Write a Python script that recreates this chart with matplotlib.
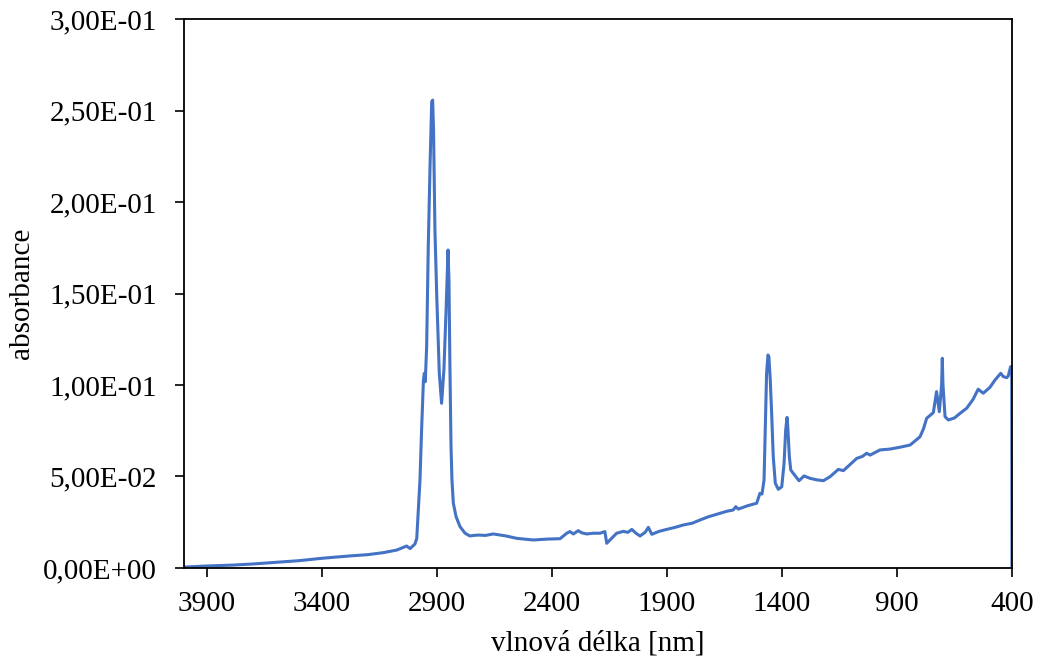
import numpy as np
import matplotlib.pyplot as plt
from matplotlib.ticker import FuncFormatter, MultipleLocator

plt.rcParams['font.family'] = ['Liberation Serif', 'DejaVu Serif']

# IR spectrum, wavenumber vs absorbance
wavenumber = [4000, 3900, 3786, 3700, 3568, 3500, 3401, 3278, 3200, 3133, 3075,
              3032, 3017, 2996, 2988, 2974, 2967, 2959, 2955, 2951, 2945, 2938,
              2930, 2923, 2919, 2915, 2909, 2901, 2890, 2880, 2870, 2861, 2852,
              2848, 2844, 2839, 2835, 2829, 2817, 2800, 2778, 2757, 2740, 2720,
              2690, 2655, 2600, 2553, 2481, 2420, 2365, 2336, 2322, 2307, 2286,
              2270, 2249, 2220, 2191, 2170, 2162, 2148, 2119, 2090, 2070, 2053,
              2035, 2017, 1995, 1981, 1966, 1935, 1901, 1865, 1829, 1790, 1757,
              1720, 1670, 1640, 1612, 1601, 1590, 1550, 1510, 1496, 1487, 1478,
              1473, 1467, 1461, 1457, 1451, 1445, 1438, 1429, 1416, 1401, 1391,
              1384, 1378, 1374, 1368, 1362, 1351, 1326, 1304, 1278, 1250, 1220,
              1191, 1155, 1133, 1100, 1075, 1050, 1032, 1017, 974, 930, 887,
              843, 800, 785, 771, 742, 728, 716, 706, 703, 700, 691, 677, 650,
              626, 597, 570, 547, 525, 496, 474, 449, 438, 423, 416, 406, 401, 400]
absorbance = [0.0005, 0.0011, 0.0016, 0.0022, 0.0034, 0.0040, 0.0053, 0.0066, 0.0073,
              0.0084, 0.0098, 0.0120, 0.0106, 0.0131, 0.0162, 0.0481, 0.0754, 0.1027,
              0.1064, 0.1018, 0.1210, 0.1756, 0.2211, 0.2548, 0.2557, 0.2393, 0.1847,
              0.1483, 0.1064, 0.0900, 0.1082, 0.1392, 0.1738, 0.1574, 0.1119, 0.0663,
              0.0481, 0.0354, 0.0280, 0.0226, 0.0190, 0.0175, 0.0178, 0.0180, 0.0178,
              0.0186, 0.0175, 0.0162, 0.0153, 0.0158, 0.0160, 0.0190, 0.0199, 0.0186,
              0.0204, 0.0192, 0.0186, 0.0190, 0.0190, 0.0199, 0.0135, 0.0153, 0.0190,
              0.0200, 0.0195, 0.0211, 0.0190, 0.0175, 0.0195, 0.0222, 0.0184, 0.0200,
              0.0211, 0.0222, 0.0235, 0.0245, 0.0262, 0.0280, 0.0299, 0.0310, 0.0317,
              0.0335, 0.0322, 0.0340, 0.0354, 0.0408, 0.0404, 0.0481, 0.0754, 0.1064,
              0.1164, 0.1155, 0.1027, 0.0845, 0.0608, 0.0463, 0.0430, 0.0444, 0.0572,
              0.0754, 0.0823, 0.0754, 0.0608, 0.0536, 0.0517, 0.0477, 0.0503, 0.0490,
              0.0482, 0.0477, 0.0499, 0.0539, 0.0532, 0.0570, 0.0599, 0.0610, 0.0627,
              0.0617, 0.0645, 0.0650, 0.0660, 0.0672, 0.0717, 0.0760, 0.0818, 0.0849,
              0.0964, 0.0854, 0.1000, 0.1146, 0.1000, 0.0827, 0.0809, 0.0820, 0.0845,
              0.0873, 0.0920, 0.0977, 0.0955, 0.0987, 0.1027, 0.1064, 0.1046, 0.1040,
              0.1050, 0.1100, 0.1100, 0.0]

fig = plt.figure(figsize=(10.39, 6.63), dpi=100)
ax = fig.add_axes([0.1771, 0.1433, 0.7969, 0.828])

ax.plot(wavenumber, absorbance, color="#4472C4", linewidth=2.2,
        solid_joinstyle="round")

ax.set_xlim(4000, 400)
ax.set_ylim(0, 0.3)
ax.set_xticks([3900, 3400, 2900, 2400, 1900, 1400, 900, 400])
ax.yaxis.set_major_locator(MultipleLocator(0.05))
ax.yaxis.set_major_formatter(FuncFormatter(lambda v, p: ("%.2E" % v).replace(".", ",")))

ax.tick_params(axis="both", direction="out", length=6.5, width=1.2, labelsize=21)
ax.tick_params(axis="y", pad=13)
ax.tick_params(axis="x", pad=10)
for s in ax.spines.values():
    s.set_linewidth(1.3)

ax.set_xlabel("vlnová délka [nm]", fontsize=21, labelpad=10)
ax.set_ylabel("absorbance", fontsize=21, labelpad=6)

fig.savefig("out.png", dpi=100)
